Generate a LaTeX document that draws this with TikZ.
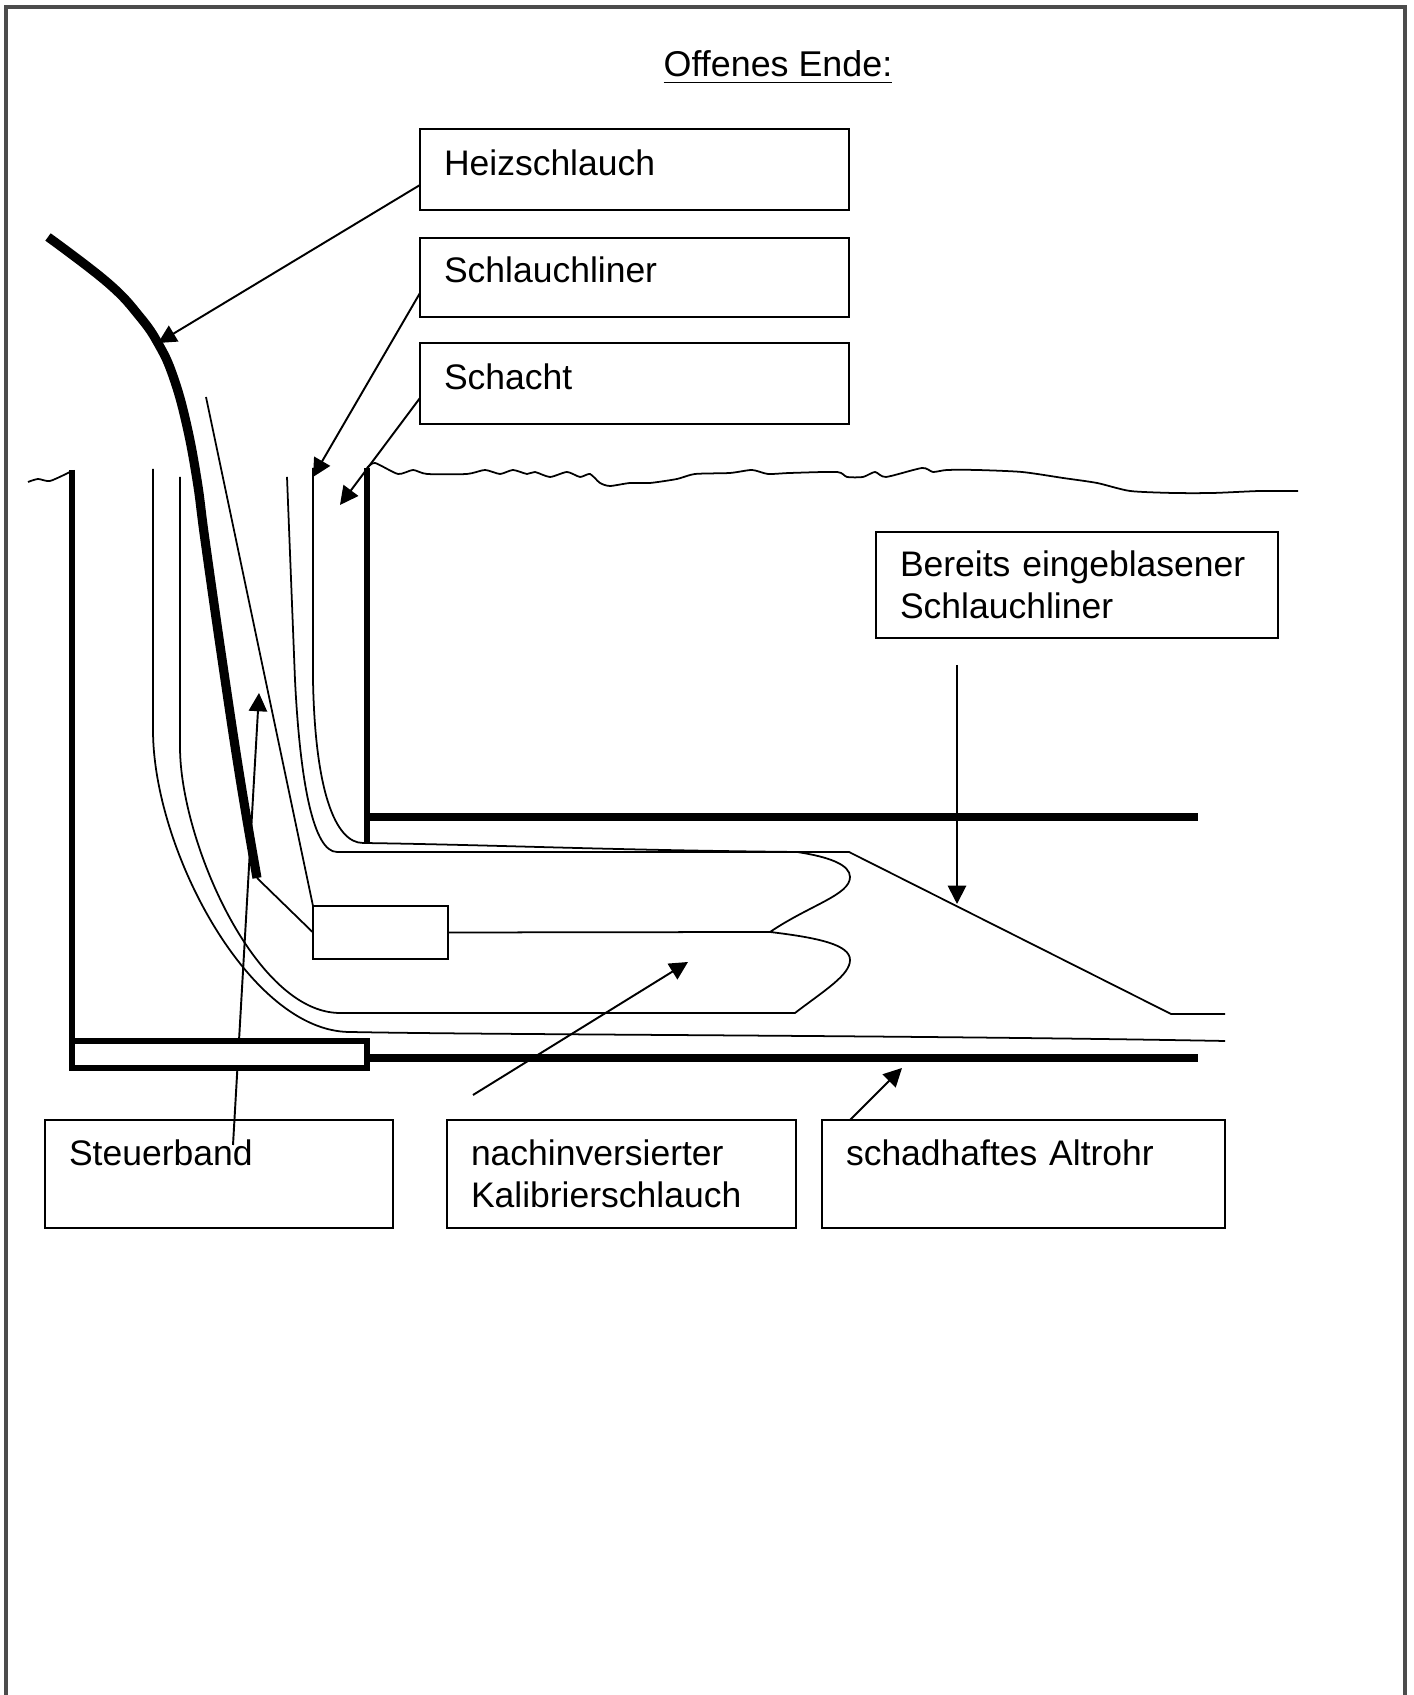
\documentclass[tikz,border=0pt]{standalone}
\usepackage{fontspec}
\setmainfont{Liberation Sans}[Ligatures=CommonOff]
\usetikzlibrary{arrows.meta}

\begin{document}
\begin{tikzpicture}[
    % Node styles
    labelbox/.style 2 args={rectangle, draw=black, line width=0.7pt, anchor=north west, outer sep=0pt, inner xsep=.24cm, inner ysep=0pt, text width=#1, text height=.46cm, text depth=#2, align=left, font=\fontsize{10.1}{11.7}\selectfont},
    title/.style={anchor=base, inner sep=0pt, font=\fontsize{10.2}{12}\selectfont},
    slider/.style={rectangle, draw=black, line width=0.8pt, anchor=north west, outer sep=0pt, inner sep=0pt, minimum width=1.35cm, minimum height=.53cm},
    footbox/.style={rectangle, draw=black, fill=white, line width=1.5pt, anchor=north west, outer sep=0pt, inner sep=0pt, minimum width=2.95cm, minimum height=.27cm},
    % Line styles
    thinline/.style={line width=0.5pt},
    shaftwall/.style={line width=1.8pt},
    pipewall/.style={line width=2.2pt},
    hose/.style={line width=2.6pt},
    pointer/.style={-{Triangle[length=5.2pt,width=5.2pt]}, line width=0.55pt}
]

% Sheet frame, open at the bottom
\useasboundingbox (0,0) rectangle (14.13,16.95);
\draw[black!70, line width=0.9pt] (.06,0) -- (.06,16.88) -- (14.05,16.88) -- (14.05,0);

% Title
\node[title] (titel) at (7.78,16.18) {\underline{Offenes Ende:}};

% Label boxes, top row
\node[labelbox={3.81cm}{.34cm}, text height=.47cm] (heiz) at (4.20,15.66) {Heizschlauch};
\node[labelbox={3.81cm}{.34cm}, text height=.45cm] (liner) at (4.20,14.57) {Schlauchliner};
\node[labelbox={3.81cm}{.34cm}, text height=.47cm] (schacht) at (4.20,13.52) {Schacht};
\node[labelbox={3.54cm}{.61cm}, text height=.45cm] (bereits) at (8.76,11.63) {Bereits eingeblasener\\Schlauchliner};

% Label boxes, bottom row
\node[labelbox={3.00cm}{.62cm}] (steuer) at (.45,5.75) {Steuerband};
\node[labelbox={3.01cm}{.62cm}] (nach) at (4.47,5.75) {nachinversierter\\Kalibrierschlauch};
\node[labelbox={3.55cm}{.62cm}] (alt) at (8.22,5.75) {schadhaftes Altrohr};

% Free ends of the connectors
\coordinate (hosetip) at (1.58,13.52);
\coordinate (linertip) at (3.13,12.18);
\coordinate (schachttip) at (3.40,11.90);
\coordinate (bereitsout) at (9.57,10.30);
\coordinate (bereitstip) at (9.57,7.91);
\coordinate (nachout) at (4.73,6.00);
\coordinate (nachtip) at (6.88,7.33);
\coordinate (alttip) at (9.02,6.27);
\coordinate (steuertip) at (2.59,10.02);
\coordinate (hoseend) at (2.57,8.17);
\coordinate (bandtop) at (2.06,12.98);

% Ground surface
\draw[thinline] plot[smooth, tension=.4] coordinates {(.28,12.13) (.38,12.16) (.50,12.14) (.70,12.23)};
\draw[thinline] plot[smooth, tension=.4] coordinates {(3.67,12.27) (3.75,12.32) (3.98,12.21) (4.13,12.25) (4.27,12.21) (4.67,12.21) (4.85,12.25) (5.00,12.21) (5.13,12.25) (5.27,12.21) (5.35,12.23) (5.50,12.18) (5.67,12.23) (5.80,12.18) (5.90,12.21) (6.00,12.12) (6.10,12.09) (6.30,12.12) (6.50,12.12) (6.77,12.16) (6.95,12.21) (7.30,12.22) (7.52,12.25) (7.68,12.21) (7.90,12.22) (8.37,12.23) (8.47,12.18) (8.63,12.18) (8.75,12.23) (8.86,12.18) (9.22,12.27) (9.33,12.23) (9.47,12.25) (9.77,12.25) (10.22,12.23) (10.63,12.17) (10.97,12.12) (11.30,12.04) (11.73,12.02) (12.13,12.02) (12.60,12.04) (12.98,12.04)};

% Shaft and old pipe walls
\draw[shaftwall] (.72,12.25) -- (.72,6.54);
\draw[shaftwall] (3.67,12.27) -- (3.67,8.52);
\draw[pipewall] (3.67,8.78) -- (11.98,8.78);
\draw[pipewall] (3.67,6.37) -- (11.98,6.37);

% Liner layers
\draw[thinline] (1.53,12.26) -- (1.53,9.65) .. controls (1.53,8.45) and (2.50,6.63) .. (3.50,6.63) .. controls (5.00,6.60) and (9.00,6.60) .. (12.25,6.54);
\draw[thinline] (3.13,12.27) -- (3.13,10.15) .. controls (3.15,9.05) and (3.35,8.52) .. (3.63,8.52) .. controls (5.00,8.50) and (6.00,8.45) .. (7.97,8.43) -- (8.49,8.43) -- (11.71,6.81) -- (12.25,6.81);

% Calibration hose, folded back at its end
\draw[thinline] (2.87,12.18) -- (2.95,10.15) .. controls (3.00,9.15) and (3.13,8.43) .. (3.37,8.43) -- (7.97,8.43) .. controls (8.30,8.38) and (8.50,8.30) .. (8.50,8.18) .. controls (8.50,8.00) and (8.10,7.90) .. (7.70,7.63) .. controls (8.20,7.57) and (8.50,7.50) .. (8.50,7.35) .. controls (8.50,7.20) and (8.25,7.05) .. (7.95,6.82) -- (3.40,6.82) .. controls (2.55,6.82) and (1.80,8.55) .. (1.80,9.48) -- (1.80,12.18);

% Heating hose and slider
\draw[hose] plot[smooth, tension=.7] coordinates {(.48,14.58) (1.08,14.12) (1.40,13.78) (1.59,13.50) (1.73,13.19) (1.86,12.73) (1.97,12.15) (2.05,11.55) (2.22,10.36) (2.40,9.17) (2.57,8.17)};
\node[slider] (kopf) at (3.13,7.89) {};
\draw[thinline] (kopf.east) -- (7.70,7.63);
\draw[thinline] (hoseend) -- (kopf.west);
\draw[thinline] (bandtop) -- (kopf.north west);

% Connectors from the labels
\draw[pointer] ([yshift=-.155cm]heiz.west) -- (hosetip);
\draw[pointer] ([yshift=-.155cm]liner.west) -- (linertip);
\draw[pointer] ([yshift=-.145cm]schacht.west) -- (schachttip);
\draw[pointer] (bereitsout) -- (bereitstip);
\draw[pointer] (nachout) -- (nachtip);
\draw[pointer] ([xshift=.28cm]alt.north west) -- (alttip);
\draw[pointer] ([xshift=1.88cm,yshift=-.25cm]steuer.north west) -- (steuertip);

% Foot of the shaft, covers the band connector
\node[footbox] (fuss) at (.72,6.54) {};

\end{tikzpicture}
\end{document}
